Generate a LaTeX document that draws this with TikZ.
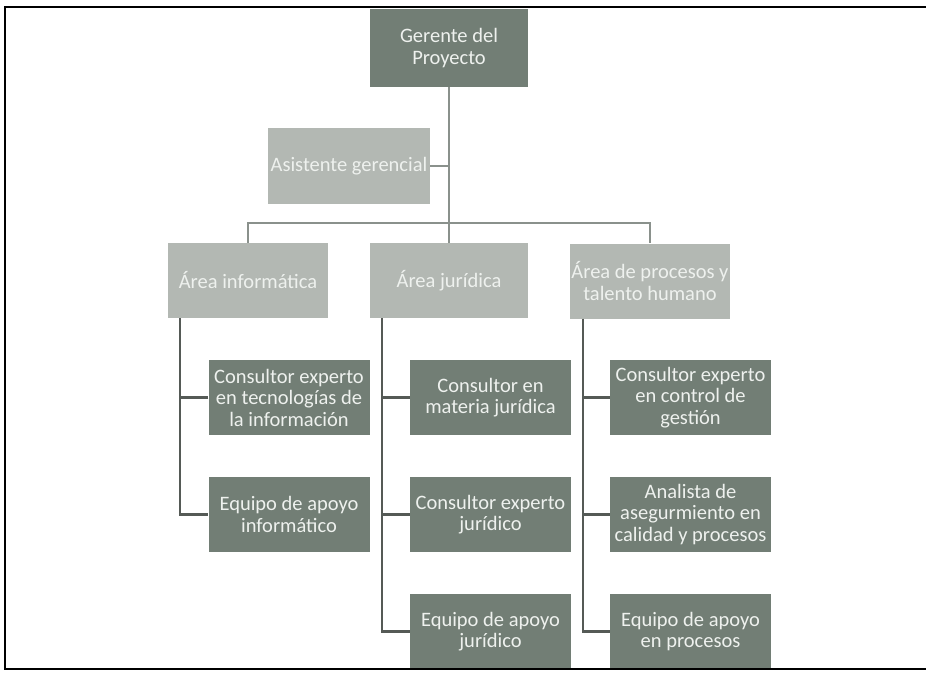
\documentclass[tikz,border=0pt]{standalone}
\usepackage{fontspec}
\setmainfont{Carlito}
\definecolor{darkbox}{HTML}{727E75}
\definecolor{lightbox}{HTML}{B3B8B3}
\definecolor{boxtext}{HTML}{EEF1EE}
\definecolor{topline}{HTML}{8A918C}
\definecolor{spine}{HTML}{555A56}
\begin{document}
\begin{tikzpicture}[x=1pt,y=-1pt,
  basebox/.style={inner sep=0pt, align=center, text=boxtext,
    font=\fontsize{20.5}{21.5}\selectfont, minimum height=75pt},
  darkbox/.style={basebox, fill=darkbox, minimum width=161pt},
  lightbox/.style={basebox, fill=lightbox, minimum width=160pt},
  topconn/.style={draw=topline, line width=2pt},
  spineconn/.style={draw=spine, line width=2.2pt}]
\useasboundingbox (0,0) rectangle (926,672);
\fill[white] (0,0) rectangle (926,672);

% nodes
\node[darkbox, minimum width=158pt, minimum height=78pt] (ger) at (449,48) {Gerente del\\Proyecto};
\node[lightbox, minimum width=162pt, minimum height=76pt] (asi) at (349,166) {Asistente gerencial};
\node[lightbox] (a1) at (248,280.5) {Área informática};
\node[lightbox, minimum width=158pt] (a2) at (449,280.5) {Área jurídica};
\node[lightbox] (a3) at (650,281) {Área de procesos y\\talento humano};

\node[darkbox] (c11) at (289,397.5) {Consultor experto\\en tecnologías de\\la información};
\node[darkbox] (c12) at (289,514.5) {Equipo de apoyo\\informático};

\node[darkbox] (c21) at (490.5,397.5) {Consultor en\\materia jurídica};
\node[darkbox] (c22) at (490.5,514.5) {Consultor experto\\jurídico};
\node[darkbox] (c23) at (490.5,631.5) {Equipo de apoyo\\jurídico};

\node[darkbox] (c31) at (690.5,397.5) {Consultor experto\\en control de\\gestión};
\node[darkbox] (c32) at (690.5,514.5) {Analista de\\asegurmiento en\\calidad y procesos};
\node[darkbox] (c33) at (690.5,631.5) {Equipo de apoyo\\en procesos};

% top connectors
\coordinate (bus) at (449,223);
\draw[topconn] (ger.south) -- (a2.north);
\draw[topconn] (asi.east) -- (ger.south |- asi.east);
\draw[topconn] (a1.north) |- (bus) -| (a3.north);

% spines
\coordinate (s1) at ([xshift=-68pt]a1.south);
\coordinate (s2) at ([xshift=-67pt]a2.south);
\coordinate (s3) at ([xshift=-67pt]a3.south);
\draw[spineconn] (s1) |- (c12.west);
\draw[spineconn] (c11.west) -- (s1 |- c11.west);
\draw[spineconn] (s2) |- (c23.west);
\draw[spineconn] (c21.west) -- (s2 |- c21.west);
\draw[spineconn] (c22.west) -- (s2 |- c22.west);
\draw[spineconn] (s3) |- (c33.west);
\draw[spineconn] (c31.west) -- (s3 |- c31.west);
\draw[spineconn] (c32.west) -- (s3 |- c32.west);

% frame
\draw[black, line width=1.6pt] (926,7) -- (5,7) -- (5,669) -- (926,669);
\end{tikzpicture}
\end{document}
